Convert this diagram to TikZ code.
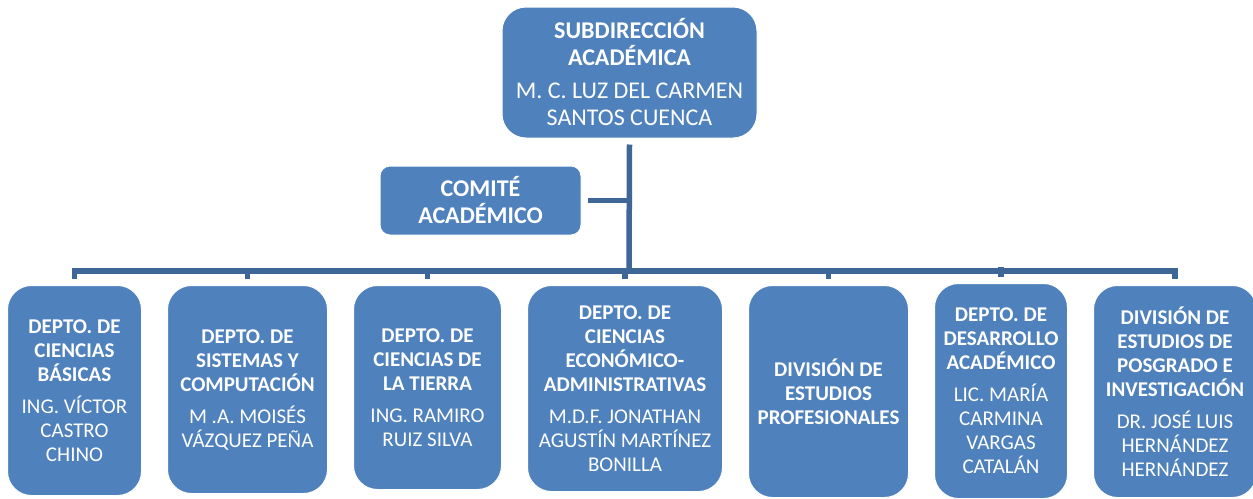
\documentclass[tikz,border=0pt]{standalone}
\usepackage{fontspec}
\setmainfont{Carlito}
\usepackage{xcolor}
\usepackage{tikz}
\usetikzlibrary{positioning}

\definecolor{boxblue}{HTML}{4F81BD}
\definecolor{linkblue}{HTML}{3E6696}

\begin{document}
\begin{tikzpicture}[
    x=1pt, y=-1pt,
    node distance=25pt,
    unit/.style={rectangle, draw=white, line width=1pt, rounded corners=24pt, fill=boxblue,
        text=white, align=center, inner sep=2pt,
        font=\fontsize{24}{27}\selectfont},
    dept/.style={unit, anchor=north west, font=\fontsize{21}{24}\selectfont},
    link/.style={draw=linkblue, line width=5.5pt}
]
    \useasboundingbox (0,0) rectangle (1253,498);

    % Top
    \node[unit, minimum width=255pt, minimum height=131pt] (sub) at (629.5,72.5)
        {\textbf{SUBDIRECCIÓN}\\\textbf{ACADÉMICA}\\[6pt]M. C. LUZ DEL CARMEN\\SANTOS CUENCA};
    \node[unit, rounded corners=10pt, minimum width=201pt, minimum height=69pt] (comite) at (480.5,200.5)
        {\textbf{COMITÉ}\\\textbf{ACADÉMICO}};

    % Departments
    \node[dept, minimum width=134pt, minimum height=210pt] (basicas) at (7,285)
        {\textbf{DEPTO. DE}\\\textbf{CIENCIAS}\\\textbf{BÁSICAS}\\[8pt]ING. VÍCTOR\\CASTRO\\CHINO};
    \node[dept, minimum width=160pt, minimum height=208pt, right=of basicas.north east, anchor=north west] (sistemas)
        {\textbf{DEPTO. DE}\\\textbf{SISTEMAS Y}\\\textbf{COMPUTACIÓN}\\[8pt]M .A. MOISÉS\\VÁZQUEZ PEÑA};
    \node[dept, minimum width=148pt, minimum height=204pt, right=of sistemas.north east, anchor=north west] (tierra)
        {\textbf{DEPTO. DE}\\\textbf{CIENCIAS DE}\\\textbf{LA TIERRA}\\[8pt]ING. RAMIRO\\RUIZ SILVA};
    \node[dept, minimum width=195pt, minimum height=206pt, right=of tierra.north east, anchor=north west] (economico)
        {\textbf{DEPTO. DE}\\\textbf{CIENCIAS}\\\textbf{ECONÓMICO-}\\\textbf{ADMINISTRATIVAS}\\[8pt]M.D.F. JONATHAN\\AGUSTÍN MARTÍNEZ\\BONILLA};
    \node[dept, minimum width=160pt, minimum height=212pt, right=of economico.north east, anchor=north west] (profesionales)
        {\textbf{DIVISIÓN DE}\\\textbf{ESTUDIOS}\\\textbf{PROFESIONALES}};
    \node[dept, minimum width=133pt, minimum height=215pt, right=of profesionales.north east, anchor=north west, yshift=2pt] (desarrollo)
        {\textbf{DEPTO. DE}\\\textbf{DESARROLLO}\\\textbf{ACADÉMICO}\\[8pt]LIC. MARÍA\\CARMINA\\VARGAS\\CATALÁN};
    \node[dept, minimum width=163pt, minimum height=212pt, right=of desarrollo.north east, anchor=north west, yshift=-2pt] (posgrado)
        {\textbf{DIVISIÓN DE}\\\textbf{ESTUDIOS DE}\\\textbf{POSGRADO E}\\\textbf{INVESTIGACIÓN}\\[8pt]DR. JOSÉ LUIS\\HERNÁNDEZ\\HERNÁNDEZ};

    % Links
    \coordinate (bus) at (629,271);
    \draw[link] ([yshift=-6pt]sub.south) -- (bus);
    \draw[link] ([xshift=6pt]comite.east) -- (comite.east -| bus);
    \draw[link] ([yshift=6pt]basicas.north) |- ([yshift=14pt]posgrado.north) -- ([yshift=6pt]posgrado.north);
    \foreach \n in {sistemas, tierra, economico, profesionales, desarrollo}
        \draw[link] ([yshift=6pt]\n.north) -- ([yshift=16pt]\n.north);

\end{tikzpicture}
\end{document}
